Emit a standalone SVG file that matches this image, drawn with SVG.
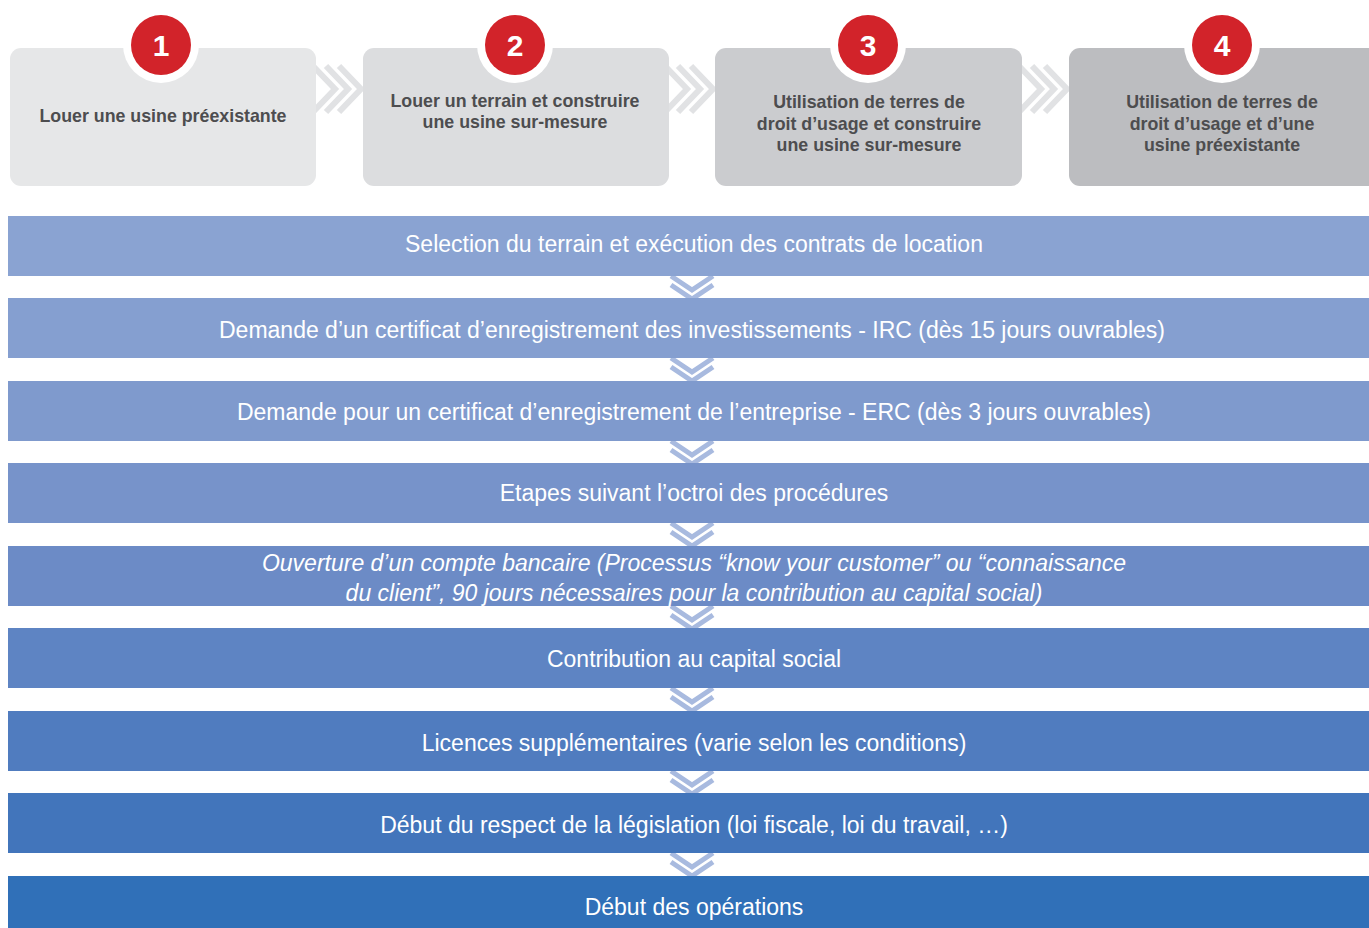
<svg xmlns="http://www.w3.org/2000/svg" width="1369" height="928" viewBox="0 0 1369 928">
<style>
.hchev{fill:none;stroke:#e1e2e4;stroke-width:6}
.vchev{fill:none;stroke:#a8badf;stroke-width:5}
.ring{fill:#ffffff}
.dot{fill:#d2232a}
.num{font-family:"Liberation Sans",Arial,sans-serif;font-weight:bold;font-size:30px;fill:#ffffff;text-anchor:middle}
.box{font-family:"Liberation Sans",Arial,sans-serif;font-weight:bold;font-size:17.8px;fill:#4d4d4f;text-anchor:middle}
.bar{font-family:"Liberation Sans",Arial,sans-serif;font-size:23px;fill:#ffffff;text-anchor:middle}
.it{font-style:italic}
</style>
<rect width="1369" height="928" fill="#ffffff"/>
<g id="connectors">
  <path class="hchev" d="M313,66 L335,89 L313,112 M326,66 L348,89 L326,112 M339,66 L361,89 L339,112"/>
  <path class="hchev" d="M665,66 L687,89 L665,112 M678,66 L700,89 L678,112 M691,66 L713,89 L691,112"/>
  <path class="hchev" d="M1019,66 L1041,89 L1019,112 M1032,66 L1054,89 L1032,112 M1045,66 L1067,89 L1045,112"/>
  <path class="vchev" d="M671,276 L692,290 L713,276 M671,285 L692,299 L713,285"/>
  <path class="vchev" d="M671,358 L692,372 L713,358 M671,367 L692,381 L713,367"/>
  <path class="vchev" d="M671,441 L692,455 L713,441 M671,450 L692,464 L713,450"/>
  <path class="vchev" d="M671,523 L692,537 L713,523 M671,532 L692,546 L713,532"/>
  <path class="vchev" d="M671,606 L692,620 L713,606 M671,615 L692,629 L713,615"/>
  <path class="vchev" d="M671,688 L692,702 L713,688 M671,697 L692,711 L713,697"/>
  <path class="vchev" d="M671,771 L692,785 L713,771 M671,780 L692,794 L713,780"/>
  <path class="vchev" d="M671,853 L692,867 L713,853 M671,862 L692,876 L713,862"/>
</g>
<g id="option1">
  <rect x="10" y="48" width="306" height="138" rx="11" fill="#e6e7e8"/>
  <circle class="ring" cx="161" cy="45" r="38"/>
  <circle class="dot" cx="161" cy="45" r="30"/>
  <text class="num" x="161" y="56">1</text>
  <text class="box" x="163" y="122">Louer une usine préexistante</text>
</g>
<g id="option2">
  <rect x="363" y="48" width="306" height="138" rx="11" fill="#dcdddf"/>
  <circle class="ring" cx="515" cy="45" r="38"/>
  <circle class="dot" cx="515" cy="45" r="30"/>
  <text class="num" x="515" y="56">2</text>
  <text class="box" x="515" y="107">Louer un terrain et construire</text>
  <text class="box" x="515" y="128">une usine sur-mesure</text>
</g>
<g id="option3">
  <rect x="715" y="48" width="307" height="138" rx="11" fill="#cbcccf"/>
  <circle class="ring" cx="868" cy="45" r="38"/>
  <circle class="dot" cx="868" cy="45" r="30"/>
  <text class="num" x="868" y="56">3</text>
  <text class="box" x="869" y="108">Utilisation de terres de</text>
  <text class="box" x="869" y="130">droit d’usage et construire</text>
  <text class="box" x="869" y="151">une usine sur-mesure</text>
</g>
<g id="option4">
  <rect x="1069" y="48" width="320" height="138" rx="11" fill="#bcbdc0"/>
  <circle class="ring" cx="1222" cy="45" r="38"/>
  <circle class="dot" cx="1222" cy="45" r="30"/>
  <text class="num" x="1222" y="56">4</text>
  <text class="box" x="1222" y="108">Utilisation de terres de</text>
  <text class="box" x="1222" y="130">droit d’usage et d’une</text>
  <text class="box" x="1222" y="151">usine préexistante</text>
</g>
<g id="step1">
  <rect x="8" y="216" width="1361" height="60" fill="#8aa3d2"/>
  <text class="bar" x="694" y="252">Selection du terrain et exécution des contrats de location</text>
</g>
<g id="step2">
  <rect x="8" y="298" width="1361" height="60" fill="#859fd0"/>
  <text class="bar" x="692" y="338">Demande d’un certificat d’enregistrement des investissements - IRC (dès 15 jours ouvrables)</text>
</g>
<g id="step3">
  <rect x="8" y="381" width="1361" height="60" fill="#7f9acd"/>
  <text class="bar" x="694" y="420">Demande pour un certificat d’enregistrement de l’entreprise - ERC (dès 3 jours ouvrables)</text>
</g>
<g id="step4">
  <rect x="8" y="463" width="1361" height="60" fill="#7793ca"/>
  <text class="bar" x="694" y="501">Etapes suivant l’octroi des procédures</text>
</g>
<g id="step5">
  <rect x="8" y="546" width="1361" height="60" fill="#6c8bc6"/>
  <text class="bar it" x="694" y="571">Ouverture d’un compte bancaire (Processus “know your customer” ou “connaissance</text>
  <text class="bar it" x="694" y="601">du client”, 90 jours nécessaires pour la contribution au capital social)</text>
</g>
<g id="step6">
  <rect x="8" y="628" width="1361" height="60" fill="#5e84c3"/>
  <text class="bar" x="694" y="667">Contribution au capital social</text>
</g>
<g id="step7">
  <rect x="8" y="711" width="1361" height="60" fill="#507cbf"/>
  <text class="bar" x="694" y="751">Licences supplémentaires (varie selon les conditions)</text>
</g>
<g id="step8">
  <rect x="8" y="793" width="1361" height="60" fill="#4275bb"/>
  <text class="bar" x="694" y="833">Début du respect de la législation (loi fiscale, loi du travail, …)</text>
</g>
<g id="step9">
  <rect x="8" y="876" width="1361" height="60" fill="#3070b8"/>
  <text class="bar" x="694" y="915">Début des opérations</text>
</g>
</svg>
